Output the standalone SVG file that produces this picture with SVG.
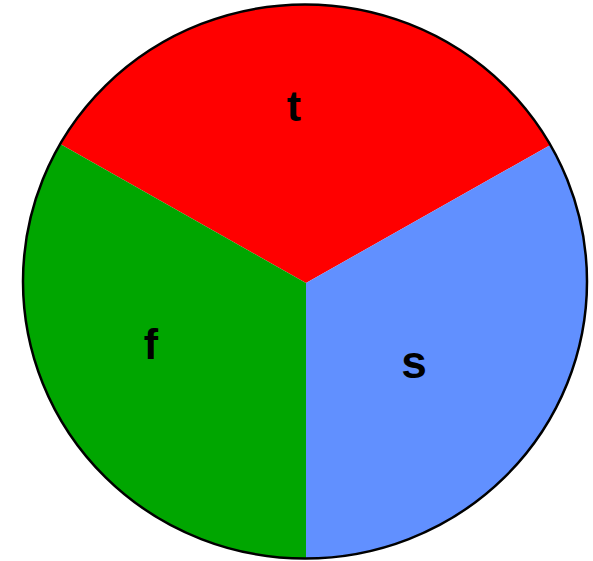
<svg xmlns="http://www.w3.org/2000/svg" width="593" height="561" viewBox="0 0 593 561">
<style>
.lbl{font-family:"Liberation Sans",Arial,sans-serif;font-weight:bold;font-size:43px;fill:#000;text-anchor:middle}
.sl{stroke:none}
</style>
<rect width="593" height="561" fill="#fff"/>
<g id="slice-t"><path class="sl" d="M306,283 L60.2,144 A282,277 0 0 1 550.4,145 Z" fill="#FF0000"/><text class="lbl" x="294" y="121">t</text></g>
<g id="slice-f"><path class="sl" d="M306,283 L306,558.5 A282,277 0 0 1 60.2,144 Z" fill="#00A600"/><text class="lbl" x="151" y="359">f</text></g>
<g id="slice-s"><path class="sl" d="M306,283 L550.4,145 A282,277 0 0 1 306,558.5 Z" fill="#6190FF"/><text class="lbl" x="414" y="378" style="font-size:46px">s</text></g>
<g id="outline"><ellipse cx="305" cy="281.5" rx="282" ry="277" fill="none" stroke="#000" stroke-width="2.5"/></g>
</svg>
